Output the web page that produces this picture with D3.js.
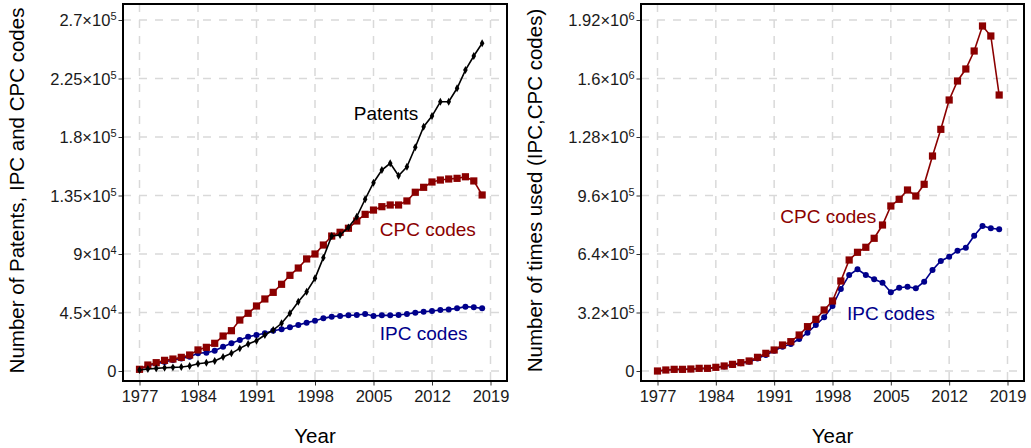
<html>
<head>
  <meta charset="utf-8" />
  <script src="https://cdnjs.cloudflare.com/ajax/libs/d3/7.8.5/d3.min.js"></script>
  <style>
    body { margin: 0; background: #fff; }
    text { font-family: "Liberation Sans", Arial, sans-serif; }
    .grid line { stroke: #d9d9d9; stroke-width: 1.5; stroke-dasharray: 8,8; }
    .axis path.domain { display: none; }
    .axis .tick line { stroke: #333; }
    .axis .tick text { fill: #1a1a1a; font-size: 16.5px; }
  </style>
</head>
<body>
  <svg width="1031" height="448"></svg>
  <script>
    var years = [1977, 1978, 1979, 1980, 1981, 1982, 1983, 1984, 1985, 1986,
                 1987, 1988, 1989, 1990, 1991, 1992, 1993, 1994, 1995, 1996,
                 1997, 1998, 1999, 2000, 2001, 2002, 2003, 2004, 2005, 2006,
                 2007, 2008, 2009, 2010, 2011, 2012, 2013, 2014, 2015, 2016,
                 2017, 2018]

    // left panel: counts per year
    var patents = [800, 1500, 2000, 2500, 2800, 3100, 3800, 5600, 6400, 7700,
                   10800, 13600, 17400, 20800, 23300, 27700, 31500, 36700, 44400, 53300,
                   61000, 71300, 87200, 103800, 104600, 110500, 118700, 132100, 144800, 154600,
                   159800, 150200, 157100, 172100, 187900, 196100, 207100, 207100, 217500, 231500,
                   242300, 252100]
    var cpcCount = [1300, 4600, 6400, 8200, 9200, 10500, 12300, 16200, 18200, 21300,
                    26900, 31000, 39200, 44400, 50000, 55400, 60500, 66700, 73600, 79200,
                    86200, 90000, 96900, 103800, 106700, 109800, 115400, 120500, 123800, 126400,
                    127700, 127700, 130800, 137500, 141300, 145400, 146900, 147700, 148200, 149400,
                    146200, 135400]
    var ipcCount = [1300, 4000, 5600, 7000, 8500, 9700, 11000, 13600, 14100, 15600,
                    18700, 21300, 23800, 26400, 27700, 29000, 31000, 32100, 33600, 35400,
                    37200, 38700, 40500, 41800, 42300, 42800, 43100, 43800, 42300, 42800,
                    42800, 43100, 43800, 44900, 45600, 46200, 46900, 47400, 48200, 49500,
                    49000, 48200]

    // right panel: times used
    var cpcUsed = [0, 5500, 9100, 9100, 10900, 14600, 14600, 20100, 27400, 36500,
                   45600, 54700, 74800, 96700, 114900, 142200, 160500, 196900, 242600, 282600,
                   333700, 382900, 492300, 607200, 649300, 676700, 725900, 798600, 902600, 939200,
                   990100, 957300, 1021300, 1176000, 1322000, 1482400, 1586300, 1652000, 1750400, 1887200,
                   1832500, 1509700]
    var ipcUsed = [0, 5000, 8000, 8500, 10000, 13000, 13500, 18500, 25000, 33000,
                   42000, 50000, 68000, 88000, 111000, 133000, 147700, 175000, 209700, 251600,
                   293600, 355600, 448500, 525100, 556200, 525100, 501600, 483000, 430400, 455600,
                   461100, 452300, 488500, 552500, 601700, 625200, 658000, 674400, 740100, 793200,
                   780500, 775000]

    var xTicks = [1977, 1984, 1991, 1998, 2005, 2012, 2019]
    var leftTicks = [0, 45000, 90000, 135000, 180000, 225000, 270000]
    var leftTickLabels = [["0"], ["4.5", 4], ["9", 4], ["1.35", 5], ["1.8", 5], ["2.25", 5], ["2.7", 5]]
    var rightTicks = [0, 320000, 640000, 960000, 1280000, 1600000, 1920000]
    var rightTickLabels = [["0"], ["3.2", 5], ["6.4", 5], ["9.6", 5], ["1.28", 6], ["1.6", 6], ["1.92", 6]]

    var svg = d3.select("svg")

    function panel(box, yTicks, yLabels, yTitle, series, labels) {
      var x = d3.scaleLinear().domain([1977, 2019]).range([box.x0 + 16.5, box.x1 - 16.5])
      var y = d3.scaleLinear().domain([0, yTicks[yTicks.length - 1]]).range([box.y1 - 10, box.y0 + 16])
      var g = svg.append("g")

      var grid = g.append("g").attr("class", "grid")
      grid.selectAll("line.h").data(yTicks).enter().append("line")
          .attr("x1", box.x0).attr("x2", box.x1)
          .attr("y1", d => y(d)).attr("y2", d => y(d))
      grid.selectAll("line.v").data(xTicks).enter().append("line")
          .attr("y1", box.y0).attr("y2", box.y1)
          .attr("x1", d => x(d)).attr("x2", d => x(d))

      g.append("g").attr("class", "axis")
        .attr("transform", `translate(${box.x0},0)`)
        .call(d3.axisLeft(y).tickValues(yTicks).tickSize(4.5).tickPadding(2))
        .selectAll(".tick text")
        .each(function (d, i) {
          var t = d3.select(this).text(null).attr("dy", "0.36em")
          var lab = yLabels[i]
          if (lab.length == 1) { t.text(lab[0]); return }
          t.append("tspan").text(lab[0] + "\u00d710")
          t.append("tspan").attr("dy", "-0.55em").style("font-size", "11px").text(lab[1])
        })

      g.append("g").attr("class", "axis")
        .attr("transform", `translate(0,${box.y1})`)
        .call(d3.axisBottom(x).tickValues(xTicks).tickFormat(d3.format("d")).tickSize(4.5).tickPadding(5))

      var line = d3.line().x((d, i) => x(years[i])).y(d => y(d))
      series.forEach(function (s) {
        g.append("path").datum(s.values)
          .attr("fill", "none").attr("stroke", s.color).attr("stroke-width", 1.6)
          .attr("d", line)
        var pts = g.append("g").attr("fill", s.color)
        if (s.shape == "square") {
          pts.selectAll("rect").data(s.values).enter().append("rect")
            .attr("x", (d, i) => x(years[i]) - 3.6).attr("y", d => y(d) - 3.6)
            .attr("width", 7.2).attr("height", 7.2)
        } else if (s.shape == "circle") {
          pts.selectAll("circle").data(s.values).enter().append("circle")
            .attr("cx", (d, i) => x(years[i])).attr("cy", d => y(d)).attr("r", 3)
        } else {
          pts.selectAll("path").data(s.values).enter().append("path")
            .attr("d", d3.symbol().type(d3.symbolDiamond).size(18))
            .attr("transform", (d, i) => `translate(${x(years[i])},${y(d)})`)
        }
      })

      labels.forEach(function (l) {
        g.append("text").attr("x", x(l.year)).attr("y", y(l.value))
          .attr("text-anchor", "middle").attr("dy", "0.35em")
          .style("font-size", "19px").attr("fill", l.color).text(l.text)
      })

      g.append("rect")
        .attr("x", box.x0).attr("y", box.y0)
        .attr("width", box.x1 - box.x0).attr("height", box.y1 - box.y0)
        .attr("fill", "none").attr("stroke", "#000").attr("stroke-width", 2)

      g.append("text")
        .attr("x", (box.x0 + box.x1) / 2).attr("y", 443)
        .attr("text-anchor", "middle").style("font-size", "20.5px").text("Year")
      g.append("text")
        .attr("transform", `translate(${box.x0 - 106},${(box.y0 + box.y1) / 2 - 2}) rotate(-90)`)
        .attr("text-anchor", "middle").attr("dy", "0.35em")
        .style("font-size", "20.5px").text(yTitle)
    }

    panel({ x0: 123, x1: 507, y0: 4, y1: 381 }, leftTicks, leftTickLabels,
      "Number of Patents, IPC and CPC codes",
      [{ values: ipcCount, color: "#00008b", shape: "circle" },
       { values: cpcCount, color: "#8b0000", shape: "square" },
       { values: patents, color: "#000", shape: "diamond" }],
      [{ text: "Patents", year: 2006.5, value: 198400, color: "#000" },
       { text: "CPC codes", year: 2011.5, value: 109200, color: "#8b0000" },
       { text: "IPC codes", year: 2011, value: 29200, color: "#00008b" }])

    panel({ x0: 641, x1: 1024, y0: 4, y1: 381 }, rightTicks, rightTickLabels,
      "Number of times used (IPC,CPC codes)",
      [{ values: ipcUsed, color: "#00008b", shape: "circle" },
       { values: cpcUsed, color: "#8b0000", shape: "square" }],
      [{ text: "CPC codes", year: 1997.5, value: 847900, color: "#8b0000" },
       { text: "IPC codes", year: 2005, value: 317300, color: "#00008b" }])
  </script>
</body>
</html>
